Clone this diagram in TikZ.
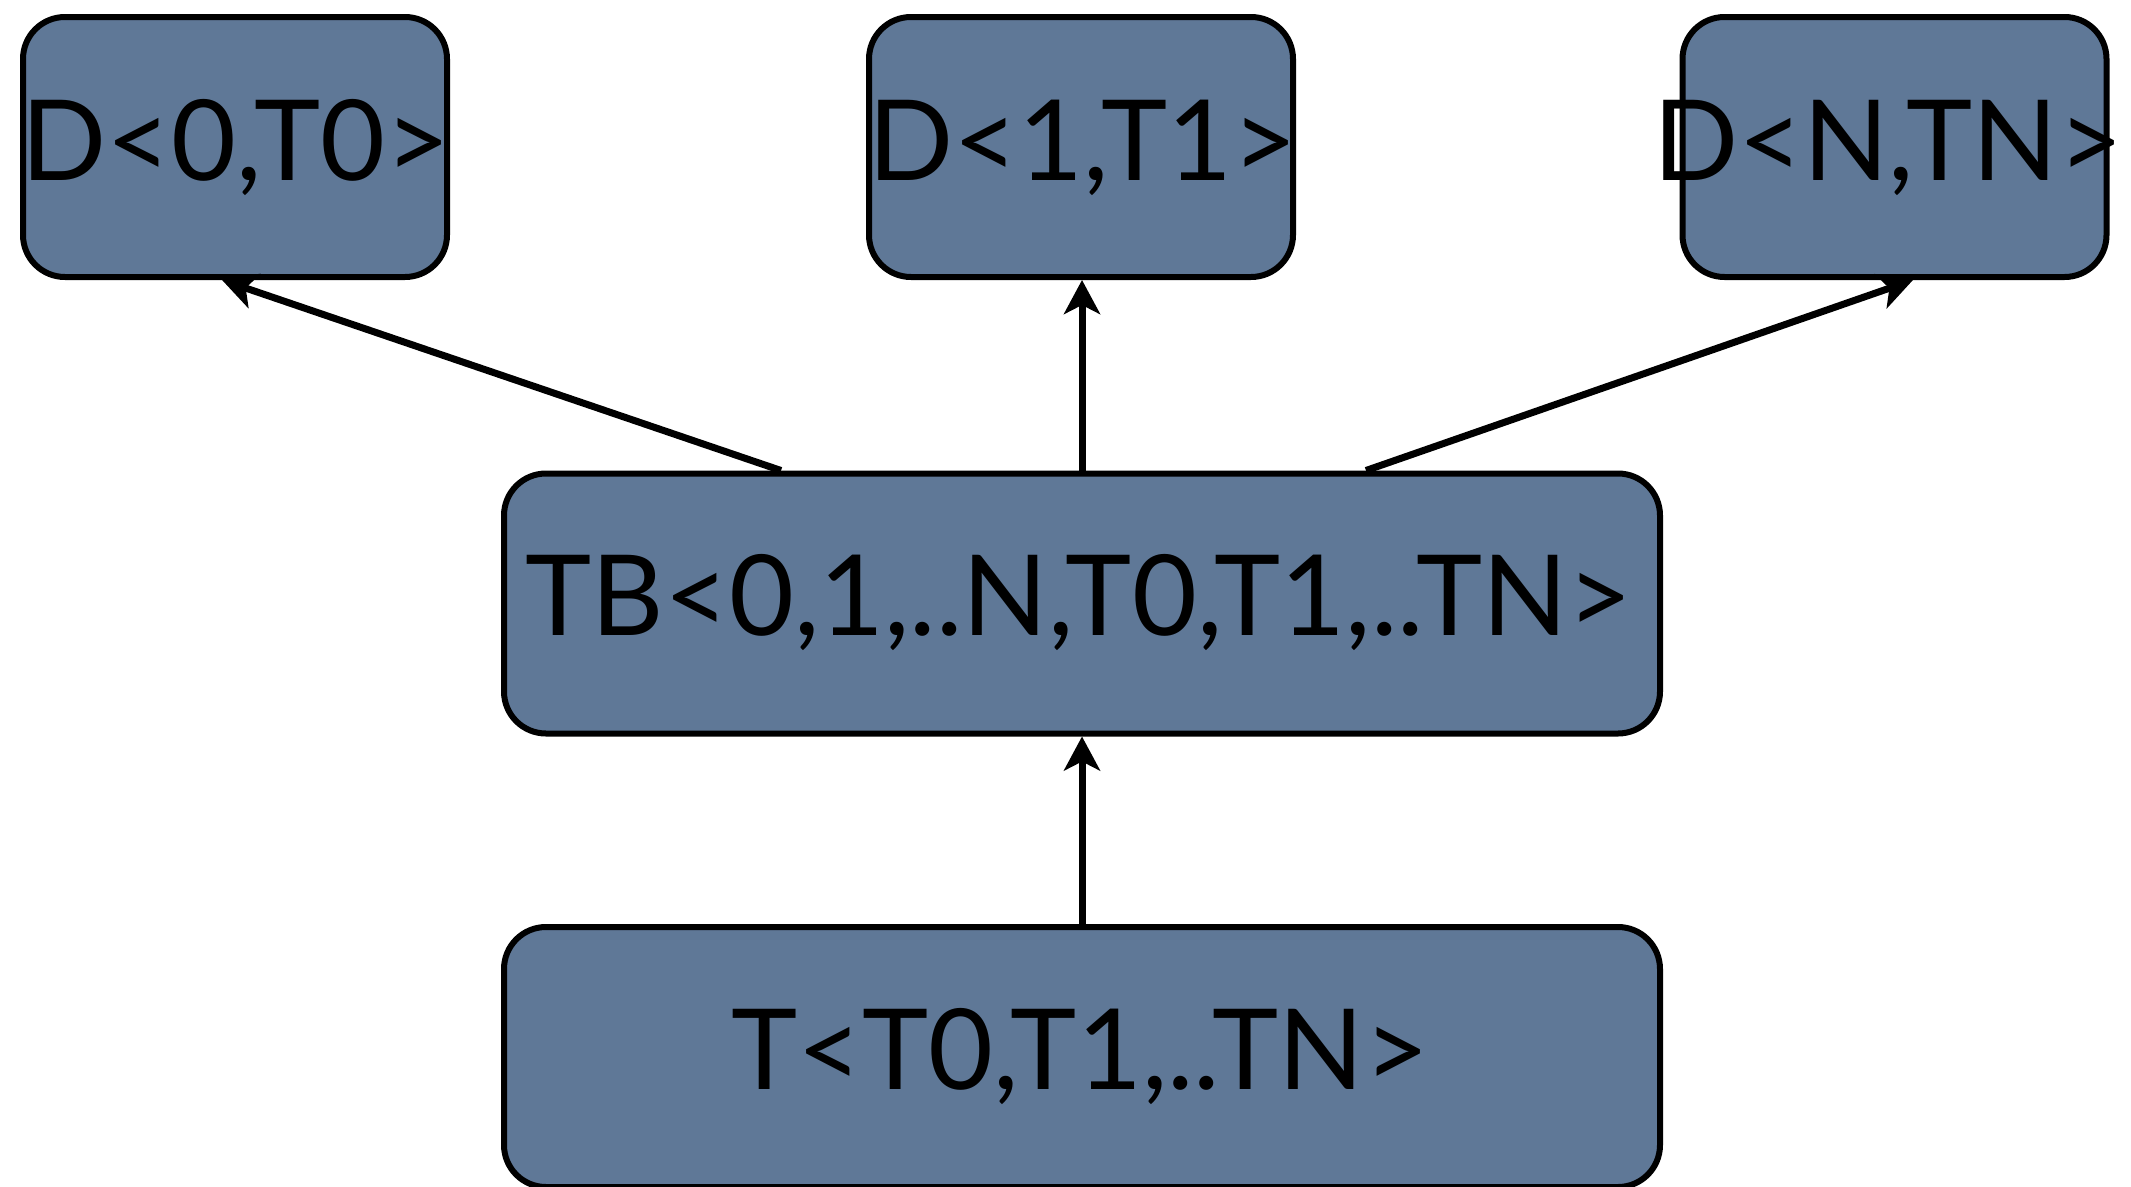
\documentclass[tikz,border=0pt]{standalone}
\usepackage{fontspec}
\setmainfont{Lato}
\usetikzlibrary{arrows.meta}
\definecolor{boxfill}{HTML}{5F7897}
\tikzset{
  box/.style={draw=black, line width=6pt, fill=boxfill, rounded corners=42pt,
    inner sep=0pt, minimum height=260pt},
  small/.style={box, minimum width=424pt},
  wide/.style={box, minimum width=1156pt},
  lbl/.style={font=\fontsize{112}{120}\selectfont, inner sep=0pt},
  conn/.style={line width=7pt, -{Stealth[length=34pt,width=36pt,inset=9pt]}}
}
\begin{document}
\begin{tikzpicture}[x=1pt,y=-1pt]
  \useasboundingbox (0,0) rectangle (2131,1186);
  % top row
  \node[small] (d0) at (235,147) {};
  \node[small] (d1) at (1081,147) {};
  \node[small] (dn) at (1894.5,147) {};
  % middle and bottom
  \node[wide] (tb) at (1082,603.5) {};
  \node[wide] (t) at (1082,1057) {};
  % labels
  \node[lbl] at (236,148) {D<0,T0>};
  \node[lbl] at (1083,148) {D<1,T1>};
  \node[lbl] at (1888,148) {D<N,TN>};
  \node[lbl] at (1079,603) {TB<0,1,..N,T0,T1,..TN>};
  \node[lbl] at (1080,1057) {T<T0,T1,..TN>};
  % connectors
  \draw[conn] ([xshift=-301pt]tb.north) -- ([xshift=-13pt]d0.south);
  \draw[conn] (tb.north) -- (tb.north |- d1.south);
  \draw[conn] ([xshift=284pt]tb.north) -- ([xshift=18.5pt]dn.south);
  \draw[conn] (t.north) -- (tb.south);
\end{tikzpicture}
\end{document}
